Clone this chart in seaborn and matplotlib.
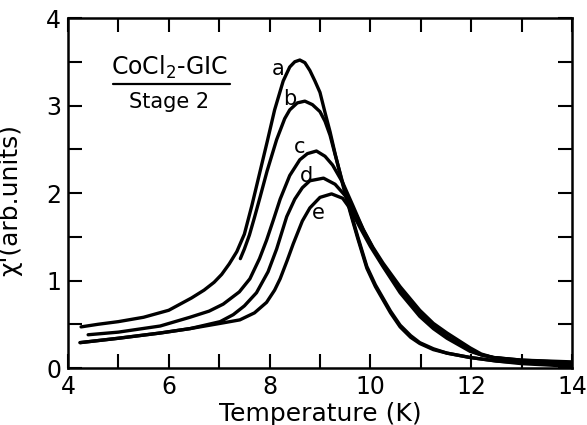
import numpy as np
import pandas as pd
import matplotlib
matplotlib.use("Agg")
import matplotlib.pyplot as plt
from matplotlib.ticker import MultipleLocator, FixedLocator
import seaborn as sns

# values
t_a = [4.26, 4.6, 5.0, 5.5, 6.0, 6.45, 6.7, 6.9, 7.05, 7.2, 7.35, 7.5, 7.65, 7.8, 7.95,
       8.1, 8.27, 8.4, 8.5, 8.6, 8.7, 8.8, 8.9, 9.0, 9.1, 9.2, 9.3, 9.45, 9.6, 9.75, 9.93,
       10.1, 10.25, 10.4, 10.59, 10.8, 10.98, 11.25, 11.52, 11.98, 12.5, 13.0, 14.0]
chi_a = [0.47, 0.50, 0.53, 0.58, 0.66, 0.80, 0.89, 0.98, 1.07, 1.19, 1.33, 1.53, 1.86, 2.22, 2.58,
         2.95, 3.28, 3.44, 3.50, 3.52, 3.49, 3.40, 3.28, 3.15, 2.92, 2.70, 2.45, 2.10, 1.78, 1.48, 1.14,
         0.93, 0.78, 0.63, 0.47, 0.35, 0.28, 0.21, 0.17, 0.12, 0.08, 0.05, 0.02]

t_b = [7.42, 7.5, 7.6, 7.7, 7.81, 7.95, 8.14, 8.3, 8.4, 8.55, 8.7, 8.85, 9.0, 9.1, 9.2,
       9.3, 9.45, 9.6, 9.75, 9.93, 10.1, 10.25, 10.4, 10.59, 10.8, 10.98, 11.25, 11.52,
       11.98, 12.5, 13.0, 14.0]
chi_b = [1.25, 1.36, 1.52, 1.72, 1.95, 2.25, 2.61, 2.85, 2.95, 3.03, 3.05, 3.01, 2.93, 2.82, 2.66,
         2.44, 2.12, 1.80, 1.50, 1.16, 0.95, 0.80, 0.65, 0.49, 0.37, 0.29, 0.22, 0.17,
         0.12, 0.08, 0.06, 0.03]

t_c = [4.40, 5.0, 5.83, 6.42, 6.8, 7.08, 7.4, 7.61, 7.8, 7.94, 8.08, 8.21, 8.4, 8.6, 8.75,
       8.93, 9.1, 9.25, 9.45, 9.65, 9.86, 10.05, 10.25, 10.59, 10.98, 11.25, 11.52, 11.98,
       12.2, 12.44, 13.0, 14.0]
chi_c = [0.38, 0.41, 0.48, 0.58, 0.65, 0.73, 0.87, 1.02, 1.25, 1.46, 1.70, 1.93, 2.20, 2.38, 2.45,
         2.48, 2.42, 2.32, 2.12, 1.86, 1.58, 1.38, 1.20, 0.93, 0.66, 0.51, 0.40, 0.23,
         0.16, 0.12, 0.08, 0.05]

t_d = [4.24, 5.0, 5.83, 6.42, 7.02, 7.28, 7.5, 7.74, 7.97, 8.14, 8.34, 8.5, 8.65, 8.8,
       9.07, 9.3, 9.5, 9.7, 9.86, 10.05, 10.25, 10.59, 10.98, 11.25, 11.52, 11.98, 12.2,
       12.44, 13.0, 14.0]
chi_d = [0.29, 0.34, 0.40, 0.45, 0.53, 0.61, 0.71, 0.86, 1.10, 1.36, 1.73, 1.93, 2.06, 2.14,
         2.17, 2.10, 1.97, 1.77, 1.58, 1.37, 1.17, 0.89, 0.62, 0.48, 0.36, 0.20, 0.15,
         0.12, 0.09, 0.06]

t_e = [4.24, 5.0, 5.83, 6.42, 7.02, 7.41, 7.7, 7.94, 8.1, 8.21, 8.35, 8.47, 8.65, 8.8, 9.0,
       9.23, 9.45, 9.6, 9.8, 10.0, 10.25, 10.59, 10.98, 11.25, 11.52, 11.98, 12.2, 12.44,
       13.0, 14.0]
chi_e = [0.29, 0.34, 0.40, 0.45, 0.51, 0.55, 0.63, 0.75, 0.89, 1.02, 1.23, 1.42, 1.68, 1.83, 1.95,
         1.99, 1.94, 1.82, 1.60, 1.39, 1.16, 0.86, 0.59, 0.45, 0.34, 0.19, 0.15, 0.12,
         0.09, 0.07]

curve_names = ["a", "b", "c", "d", "e"]
label_t = [8.17, 8.40, 8.60, 8.74, 8.96]
label_chi = [3.42, 3.07, 2.53, 2.20, 1.77]

x_ticks = [4, 6, 8, 10, 12, 14]
y_ticks = [0, 1, 2, 3, 4]

curves = {"a": (t_a, chi_a), "b": (t_b, chi_b), "c": (t_c, chi_c),
          "d": (t_d, chi_d), "e": (t_e, chi_e)}
df = pd.concat([pd.DataFrame({"T": t, "chi": c, "curve": k}) for k, (t, c) in curves.items()],
               ignore_index=True)

sns.set_style("ticks", {"axes.edgecolor": "black", "text.color": "black",
                        "xtick.color": "black", "ytick.color": "black",
                        "axes.labelcolor": "black"})
plt.rcParams['font.family'] = ['DejaVu Sans']
plt.rcParams['mathtext.default'] = 'regular'

fig = plt.figure(figsize=(5.87, 4.25), dpi=100)
ax = fig.add_axes([0.1158, 0.1341, 0.8586, 0.8235])

sns.lineplot(data=df, x="T", y="chi", units="curve", estimator=None, sort=False,
             color="black", lw=2.4, ax=ax, legend=False)

for name, tx, ty in zip(curve_names, label_t, label_chi):
    ax.text(tx, ty, name, fontsize=15, ha="center", va="center")

ax.text(6.0, 3.44, "CoCl$_2$-GIC", fontsize=17, ha="center", va="center")
ax.plot([4.9, 7.22], [3.25, 3.25], color="black", lw=1.6)
ax.text(6.0, 3.04, "Stage 2", fontsize=15, ha="center", va="center")

ax.set_xlim(4, 14)
ax.set_ylim(0, 4)
ax.xaxis.set_major_locator(FixedLocator(x_ticks))
ax.xaxis.set_minor_locator(MultipleLocator(1))
ax.yaxis.set_major_locator(FixedLocator(y_ticks))
ax.yaxis.set_minor_locator(MultipleLocator(0.5))
ax.tick_params(which="both", direction="in", top=True, right=True,
               length=10, width=1.5, labelsize=17, pad=5)

for s in ax.spines.values():
    s.set_linewidth(1.8)

ax.set_xlabel("Temperature (K)", fontsize=18, labelpad=2)
ax.set_ylabel("χ'(arb.units)", fontsize=18)
ax.yaxis.set_label_coords(-0.09, 0.48)

fig.savefig("out.png", dpi=100)
